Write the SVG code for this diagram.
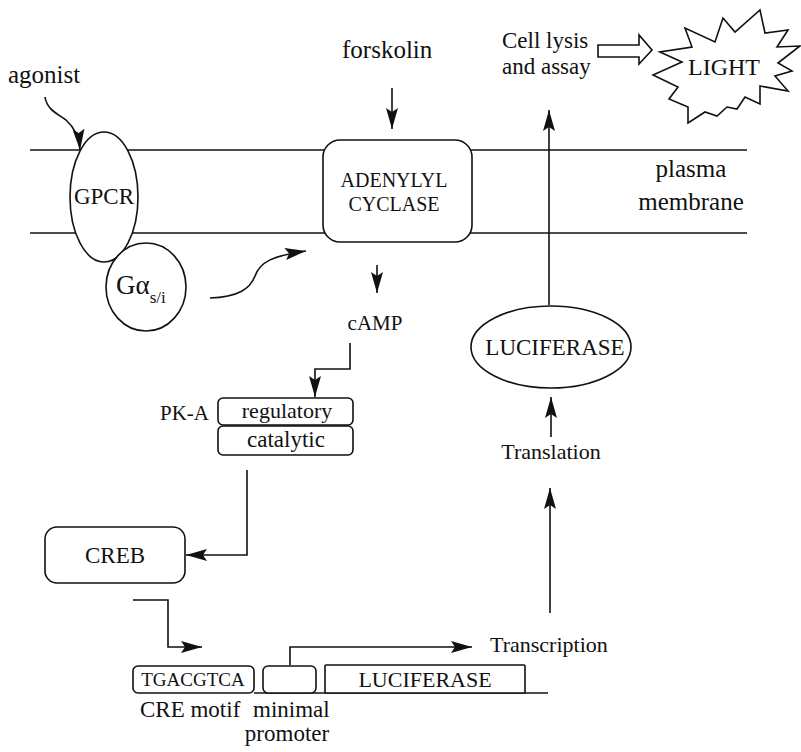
<svg xmlns="http://www.w3.org/2000/svg" width="801" height="752" viewBox="0 0 801 752">
  <style>
    text { font-family: "Liberation Serif", "Times New Roman", serif; fill: #111; }
    .shape { fill: #fff; stroke: #111; stroke-width: 1.6; }
    .line { fill: none; stroke: #111; stroke-width: 1.6; }
    .arrow { fill: none; stroke: #111; stroke-width: 1.6; marker-end: url(#head); }
    .mid { text-anchor: middle; }
  </style>
  <defs>
    <marker id="head" markerUnits="userSpaceOnUse" markerWidth="22" markerHeight="12" refX="21" refY="6" orient="auto">
      <path d="M0,0 L21,6 L0,12 L4,6 z" fill="#111"/>
    </marker>
  </defs>

  <rect width="801" height="752" fill="#fff"/>

  <!-- plasma membrane -->
  <g id="membrane">
    <line class="line" x1="30" y1="150" x2="747" y2="150"/>
    <line class="line" x1="30" y1="233" x2="747" y2="233"/>
    <text x="691" y="177" font-size="25" class="mid">plasma</text>
    <text x="691" y="210" font-size="25" class="mid">membrane</text>
  </g>

  <!-- connectors -->
  <g id="connectors">
    <path class="arrow" d="M45,97 C47,110 58,114 66,120 C74,127 79,136 80,150"/>
    <path class="arrow" d="M392,88 L392,129"/>
    <path class="arrow" d="M210,298 C238,297 250,289 255,276 C260,262 272,256 306,251"/>
    <path class="arrow" d="M377,265 L377,293"/>
    <path class="arrow" d="M350,343 L350,369 L315,369 L315,397"/>
    <path class="arrow" d="M247,470 L247,555 L186,555"/>
    <path class="arrow" d="M133,600 L168,600 L168,647 L202,647"/>
    <path class="arrow" d="M290,665 L290,647 L472,647"/>
    <path class="arrow" d="M550,613 L550,488"/>
    <path class="arrow" d="M551,437 L551,397"/>
    <path class="arrow" d="M549,305 L549,110"/>
    <polygon class="shape" points="598,45 639,45 639,35 652,50 639,64 639,57 598,57"/>
  </g>

  <g id="agonist">
    <text x="8" y="83" font-size="25">agonist</text>
  </g>

  <g id="forskolin">
    <text x="342" y="58" font-size="25">forskolin</text>
  </g>

  <g id="gpcr">
    <ellipse class="shape" cx="104" cy="197" rx="34" ry="65"/>
    <text x="104" y="204" font-size="23" class="mid">GPCR</text>
  </g>

  <g id="galpha">
    <ellipse class="shape" cx="146" cy="287" rx="40" ry="44"/>
    <text x="116" y="294" font-size="27">Gα<tspan font-size="17" dy="9">s/i</tspan></text>
  </g>

  <g id="adenylyl-cyclase">
    <rect class="shape" x="323" y="140" width="149" height="102" rx="17"/>
    <text x="394" y="187" font-size="20" class="mid">ADENYLYL</text>
    <text x="394" y="211" font-size="20" class="mid">CYCLASE</text>
  </g>

  <g id="camp">
    <text x="375" y="330" font-size="21" class="mid">cAMP</text>
  </g>

  <g id="pka">
    <text x="160" y="420" font-size="21">PK-A</text>
    <rect class="shape" x="218" y="398" width="135" height="27" rx="5"/>
    <rect class="shape" x="218" y="426" width="135" height="29" rx="5"/>
    <text x="287" y="418" font-size="22" class="mid">regulatory</text>
    <text x="286" y="447" font-size="23" class="mid">catalytic</text>
  </g>

  <g id="creb">
    <rect class="shape" x="45" y="527" width="140" height="56" rx="12"/>
    <text x="115" y="563" font-size="23" class="mid">CREB</text>
  </g>

  <g id="reporter-gene">
    <line class="line" x1="254" y1="693" x2="548" y2="693"/>
    <rect class="shape" x="133" y="666" width="121" height="27" rx="5"/>
    <text x="193" y="686" font-size="19" class="mid">TGACGTCA</text>
    <rect class="shape" x="263" y="666" width="53" height="27" rx="5"/>
    <rect class="shape" x="325" y="665" width="200" height="28" rx="1"/>
    <text x="425" y="687" font-size="22" class="mid">LUCIFERASE</text>
    <text x="140" y="717" font-size="23">CRE motif</text>
    <text x="253" y="717" font-size="23">minimal</text>
    <text x="287" y="741" font-size="23" class="mid">promoter</text>
  </g>

  <g id="transcription">
    <text x="490" y="652" font-size="22">Transcription</text>
  </g>

  <g id="translation">
    <text x="551" y="459" font-size="22" class="mid">Translation</text>
  </g>

  <g id="luciferase">
    <ellipse class="shape" cx="551" cy="347" rx="80" ry="41"/>
    <text x="555" y="355" font-size="23" class="mid">LUCIFERASE</text>
  </g>

  <g id="cell-lysis">
    <text x="502" y="48" font-size="23">Cell lysis</text>
    <text x="502" y="74" font-size="23">and assay</text>
  </g>

  <g id="light">
    <polygon class="shape" points="660,52 682,62 653,75 678,87 669,99 688,107 688,123 705,112 717,116 727,107 737,109 745,97 760,104 760,86 788,91 775,76 792,71 778,63 800,46 777,47 788,30 765,33 760,10 735,32 723,18 715,42 685,28 692,47"/>
    <text x="724" y="75" font-size="24" class="mid">LIGHT</text>
  </g>
</svg>
